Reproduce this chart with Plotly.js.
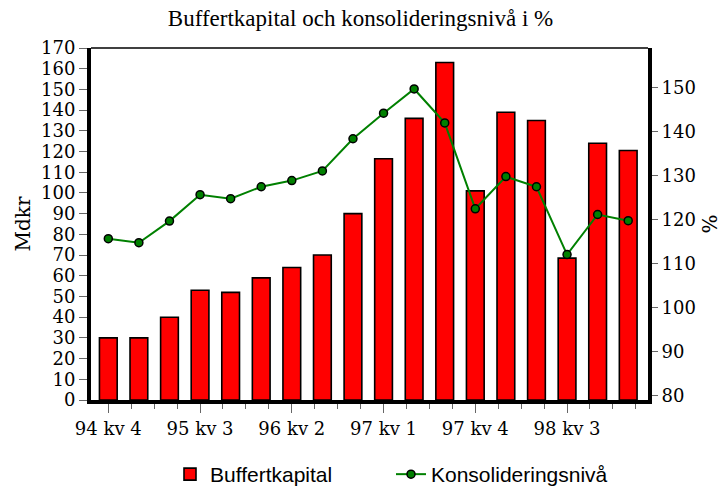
<!DOCTYPE html>
<html><head><meta charset="utf-8">
<script src="https://cdn.plot.ly/plotly-3.0.1.min.js"></script>
<style>html,body{margin:0;padding:0;background:#fff}</style>
</head><body>
<div id="chart" style="width:726px;height:486px"></div>
<script>
const categories = ["94 kv 4","95 kv 1","95 kv 2","95 kv 3","95 kv 4","96 kv 1","96 kv 2","96 kv 3","96 kv 4",
  "97 kv 1","97 kv 2","97 kv 3","97 kv 4","98 kv 1","98 kv 2","98 kv 3","98 kv 4","99 kv 1"];
const buffertkapital = [30,30,40,53,52,59,64,70,90,116.5,136,163,101,139,135,68.5,124,120.5];
const konsolideringsniva = [115.7,114.8,119.7,125.7,124.8,127.5,128.9,131.1,138.4,144.2,149.7,142.0,122.5,129.8,127.5,112.1,121.2,119.8];
const tickLabels = ["94 kv 4","95 kv 3","96 kv 2","97 kv 1","97 kv 4","98 kv 3"];
const leftTicks = [0,10,20,30,40,50,60,70,80,90,100,110,120,130,140,150,160,170];
const rightTicks = [80,90,100,110,120,130,140,150];

const xIdx = categories.map((c, i) => i);
const tickVals = tickLabels.map(l => categories.indexOf(l));

const serif = "DejaVu Serif";

const traces = [
  {
    type: "bar", name: "Buffertkapital", x: xIdx, y: buffertkapital,
    width: 0.58,
    marker: {color: "#ff0000", line: {color: "#000", width: 1.6}},
    hoverinfo: "skip"
  },
  {
    type: "scatter", mode: "lines+markers", name: "Konsolideringsnivå",
    x: xIdx, y: konsolideringsniva, yaxis: "y2",
    line: {color: "#008000", width: 2},
    marker: {color: "#008000", size: 8, line: {color: "#000", width: 1.5}},
    hoverinfo: "skip"
  }
];

const layout = {
  width: 726, height: 486,
  margin: {l: 91, r: 78, t: 48, b: 86},
  paper_bgcolor: "#fff", plot_bgcolor: "#fff",
  showlegend: true,
  title: {text: "Buffertkapital och konsolideringsnivå i %", font: {family: "Liberation Serif", size: 23, color: "#000"},
          xref: "container", x: 0.4966, xanchor: "center", yref: "container", y: 0.963, yanchor: "middle"},
  xaxis: {
    range: [-0.566, 17.647], showgrid: false, zeroline: false,
    showline: true, linecolor: "#000", linewidth: 4,
    tickmode: "array", tickvals: tickVals, ticktext: tickLabels,
    ticks: "outside", ticklen: 9, tickwidth: 1, tickcolor: "#666",
    minor: {tickmode: "linear", tick0: 0, dtick: 0.75, ticks: "outside", ticklen: 5, tickwidth: 1, tickcolor: "#666", showgrid: false},
    tickfont: {family: serif, size: 18, color: "#000"},
    fixedrange: true
  },
  yaxis: {
    range: [0, 170], showgrid: false, zeroline: false,
    showline: true, linecolor: "#000", linewidth: 4,
    tickmode: "array", tickvals: leftTicks,
    ticks: "outside", ticklen: 8, tickwidth: 1, tickcolor: "#666",
    tickfont: {family: serif, size: 18, color: "#000"},
    title: {text: "Mdkr", font: {family: serif, size: 20, color: "#000"}, standoff: 6},
    fixedrange: true
  },
  yaxis2: {
    range: [79.09, 159.0], overlaying: "y", side: "right",
    showgrid: false, zeroline: false,
    showline: true, linecolor: "#000", linewidth: 4,
    tickmode: "array", tickvals: rightTicks,
    ticks: "outside", ticklen: 6, tickwidth: 1, tickcolor: "#666",
    tickfont: {family: serif, size: 18, color: "#000"},
    title: {text: "%", font: {family: serif, size: 20, color: "#000"}, standoff: 9},
    fixedrange: true
  },
  legend: {
    orientation: "h", xref: "container", x: 170/726, xanchor: "left",
    yref: "container", y: 1 - 454/486, yanchor: "top",
    font: {family: "Liberation Sans", size: 21, color: "#000"},
    entrywidth: 176, entrywidthmode: "pixels",
    bgcolor: "rgba(0,0,0,0)", traceorder: "normal"
  },
  shapes: [
    {type: "line", xref: "paper", yref: "paper", x0: 0, x1: 1, y0: 1, y1: 1, line: {color: "#000", width: 1.5}}
  ]
};

Plotly.newPlot("chart", traces, layout, {staticPlot: true, displayModeBar: false});
</script>
</body></html>
